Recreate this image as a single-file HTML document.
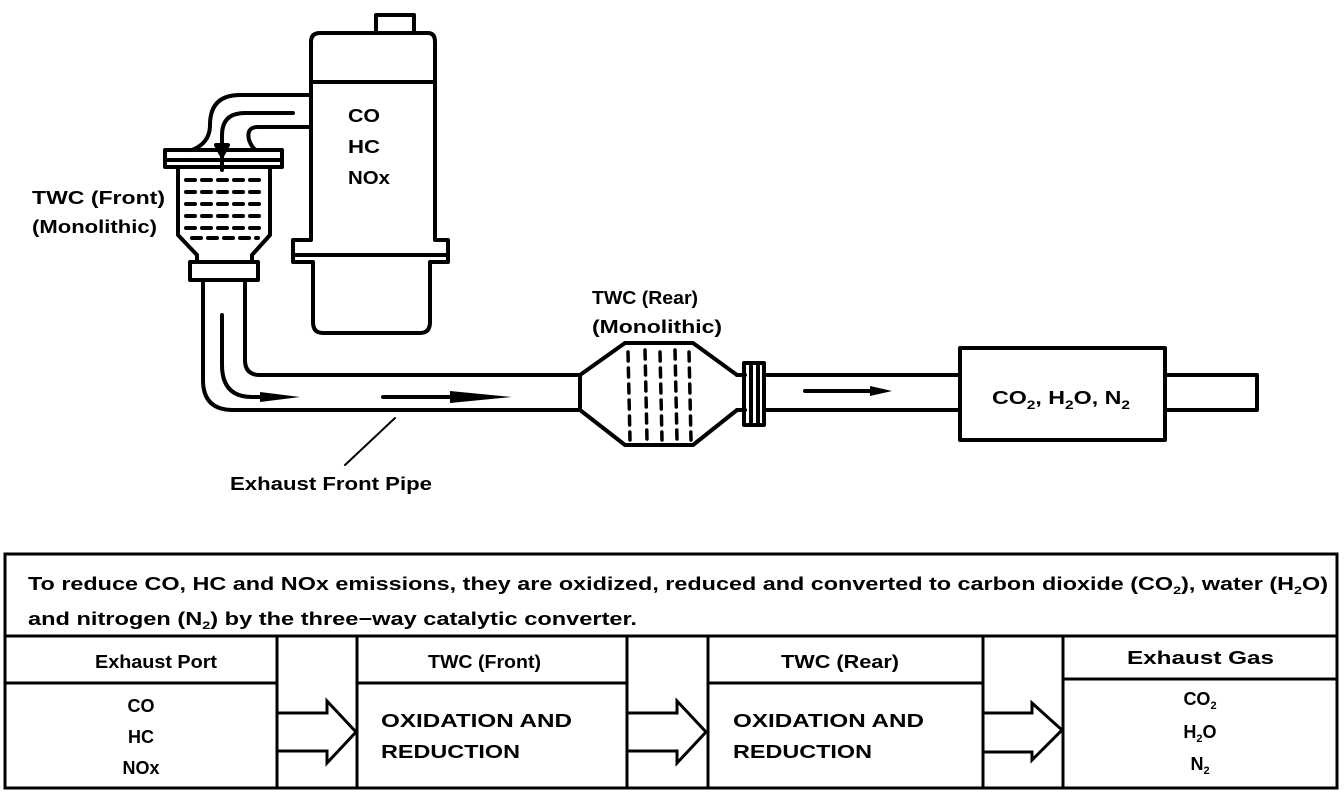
<!DOCTYPE html>
<html><head><meta charset="utf-8"><style>
body{margin:0;background:#fff;}
svg{display:block;font-family:"Liberation Sans",sans-serif;font-weight:bold;}
</style></head><body>
<svg width="1344" height="800" viewBox="0 0 1344 800" xmlns="http://www.w3.org/2000/svg">
<g fill="none" stroke="#000" stroke-width="4" stroke-linejoin="round" stroke-linecap="round">
<path d="M376 33 V15 H414 V33"/>
<path d="M320 33 H428 Q435 33 435 42 V240 H448 V262 H430 V322 Q430 333 420 333 H323 Q313 333 313 322 V262 H293 V240 H311 V42 Q311 33 320 33 Z"/>
<line x1="311" y1="82" x2="435" y2="82"/>
<line x1="293" y1="255" x2="448" y2="255"/>
<path d="M311 95 H240 Q210 95 210 125 Q210 143 192 150"/>
<path d="M311 127 H258 Q246 127 249 140 Q252 148 256 150"/>
<path d="M293 113 H245 Q222 113 222 135 V170"/>
<path d="M216 145 L222 156 L228 145 Z" fill="#000"/>
<rect x="165" y="150" width="117" height="17"/>
<line x1="165" y1="160" x2="282" y2="160"/>
<path d="M178 167 V235 L197 255 V262 M270 167 V235 L252 255 V262"/>
<rect x="190" y="262" width="68" height="18"/>
<g stroke-width="4" stroke-dasharray="9 7">
<line x1="186" y1="180" x2="265" y2="180"/><line x1="186" y1="192" x2="265" y2="192"/>
<line x1="186" y1="204" x2="265" y2="204"/><line x1="186" y1="216" x2="265" y2="216"/>
<line x1="186" y1="228" x2="265" y2="228"/><line x1="192" y1="238" x2="258" y2="238"/>
</g>
<path d="M203 280 V380 Q203 410 233 410 H580"/>
<path d="M245 280 V360 Q245 375 260 375 H580"/>
<path d="M222 315 V365 Q222 397 252 397 H260"/>
<path d="M580 375 V410"/>
<path d="M580 375 L625 343 H693 L737 375 M580 410 L625 445 H693 L737 410"/>
<g stroke-width="3.5" stroke-dasharray="9 7">
<line x1="628" y1="352" x2="630" y2="440"/><line x1="645" y1="350" x2="647" y2="440"/>
<line x1="660" y1="352" x2="662" y2="440"/><line x1="675" y1="350" x2="677" y2="440"/>
<line x1="689" y1="352" x2="691" y2="440"/>
</g>
<path d="M737 375 H745 M737 410 H745"/>
<rect x="744" y="363" width="20" height="62"/>
<line x1="751" y1="366" x2="751" y2="422"/><line x1="758" y1="366" x2="758" y2="422"/>
<path d="M764 375 H960 M764 410 H960"/>
<rect x="960" y="348" width="205" height="92"/>
<path d="M1165 375 H1257 V410 H1165"/>
<line x1="383" y1="397" x2="450" y2="397"/>
<line x1="805" y1="391" x2="870" y2="391"/>
<line x1="345" y1="465" x2="395" y2="418" stroke-width="2"/>
</g>
<g fill="#000">
<path d="M260 392 L300 397 L260 402 Z"/>
<path d="M450 391 L512 397 L450 403 Z"/>
<path d="M870 386 L892 391 L870 396 Z"/>
</g>
<g font-size="18" fill="#000" lengthAdjust="spacingAndGlyphs">
<text x="348" y="122" textLength="32" lengthAdjust="spacingAndGlyphs">CO</text><text x="348" y="153" textLength="32" lengthAdjust="spacingAndGlyphs">HC</text><text x="348" y="184" textLength="42" lengthAdjust="spacingAndGlyphs">NOx</text>
<text x="32" y="204" textLength="133" lengthAdjust="spacingAndGlyphs">TWC (Front)</text><text x="32" y="233" textLength="125" lengthAdjust="spacingAndGlyphs">(Monolithic)</text>
<text x="592" y="304" textLength="106" lengthAdjust="spacingAndGlyphs">TWC (Rear)</text><text x="592" y="333" textLength="130" lengthAdjust="spacingAndGlyphs">(Monolithic)</text>
<text x="992" y="404" textLength="138" lengthAdjust="spacingAndGlyphs">CO<tspan font-size="12" dy="5">2</tspan><tspan dy="-5">, H</tspan><tspan font-size="12" dy="5">2</tspan><tspan dy="-5">O, N</tspan><tspan font-size="12" dy="5">2</tspan></text>
<text x="230" y="490" textLength="202" lengthAdjust="spacingAndGlyphs">Exhaust Front Pipe</text>
</g>
<g fill="none" stroke="#000" stroke-width="3">
<rect x="5" y="554" width="1332" height="234"/>
<line x1="5" y1="636" x2="1337" y2="636"/>
<line x1="277" y1="636" x2="277" y2="788"/><line x1="357" y1="636" x2="357" y2="788"/>
<line x1="627" y1="636" x2="627" y2="788"/><line x1="708" y1="636" x2="708" y2="788"/>
<line x1="983" y1="636" x2="983" y2="788"/><line x1="1063" y1="636" x2="1063" y2="788"/>
<line x1="5" y1="683" x2="277" y2="683"/><line x1="357" y1="683" x2="627" y2="683"/>
<line x1="708" y1="683" x2="983" y2="683"/><line x1="1063" y1="679" x2="1337" y2="679"/>
<path d="M277 713 H327 V701 L356 732 L327 763 V751 H277"/>
<path d="M627 713 H677 V701 L706 732 L677 763 V751 H627"/>
<path d="M983 713 H1032 V703 L1062 730 L1032 760 V752 H983"/>
</g>
<g font-size="18" fill="#000">
<text x="28" y="590" textLength="1300" lengthAdjust="spacingAndGlyphs">To reduce CO, HC and NOx emissions, they are oxidized, reduced and converted to carbon dioxide (CO<tspan font-size="11" dy="4">2</tspan><tspan dy="-4">), water (H</tspan><tspan font-size="11" dy="4">2</tspan><tspan dy="-4">O)</tspan></text>
<text x="28" y="625" textLength="609" lengthAdjust="spacingAndGlyphs">and nitrogen (N<tspan font-size="11" dy="4">2</tspan><tspan dy="-4">) by the three−way catalytic converter.</tspan></text>
<text x="95" y="668" textLength="122" lengthAdjust="spacingAndGlyphs">Exhaust Port</text>
<text x="428" y="668" textLength="113" lengthAdjust="spacingAndGlyphs">TWC (Front)</text>
<text x="781" y="668" textLength="118" lengthAdjust="spacingAndGlyphs">TWC (Rear)</text>
<text x="1127" y="664" textLength="147" lengthAdjust="spacingAndGlyphs">Exhaust Gas</text>
<g text-anchor="middle">
<text x="141" y="712">CO</text><text x="141" y="743">HC</text><text x="141" y="774">NOx</text>
<text x="1200" y="705">CO<tspan font-size="11" dy="4">2</tspan></text>
<text x="1200" y="738">H<tspan font-size="11" dy="4">2</tspan><tspan dy="-4">O</tspan></text>
<text x="1200" y="770">N<tspan font-size="11" dy="4">2</tspan></text>
</g>
<text x="381" y="727" textLength="191" lengthAdjust="spacingAndGlyphs">OXIDATION AND</text><text x="381" y="758" textLength="139" lengthAdjust="spacingAndGlyphs">REDUCTION</text>
<text x="733" y="727" textLength="191" lengthAdjust="spacingAndGlyphs">OXIDATION AND</text><text x="733" y="758" textLength="139" lengthAdjust="spacingAndGlyphs">REDUCTION</text>
</g>
</svg>
</body></html>
